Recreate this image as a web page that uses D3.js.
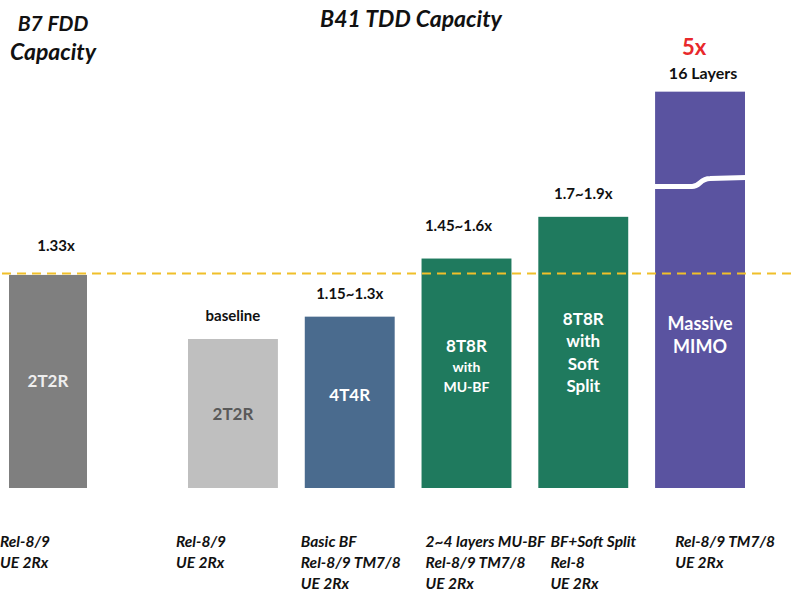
<!DOCTYPE html>
<html>
<head>
<meta charset="utf-8">
<script src="https://cdn.jsdelivr.net/npm/d3@7"></script>
<style>
  body { margin: 0; background: #fff; }
  svg { display: block; font-family: Lato, "Open Sans", sans-serif; }
</style>
</head>
<body>
<div id="chart"></div>
<script>
// capacity relative to the B41 2T2R baseline (bar heights as drawn on the slide)
const fddCategories = ['fdd2t2r'];
const tddCategories = ['2t2r', '4t4r', '8t8rMu', '8t8rSplit', 'mimo'];
const fddValues = [1.43];
const tddValues = [1.0, 1.15, 1.54, 1.82, 2.66];
const refLine = 1.44;
const breakValue = 2.05; // axis break drawn on the Massive MIMO bar

const fddTopLabels = ['1.33x'];
const tddTopLabels = ['baseline', '1.15~1.3x', '1.45~1.6x', '1.7~1.9x', '16 Layers'];
const fddInner = [['2T2R']];
const tddInner = [['2T2R'], ['4T4R'], ['8T8R', 'with', 'MU-BF'], ['8T8R', 'with', 'Soft', 'Split'], ['Massive', 'MIMO']];
const fddBottom = [['Rel-8/9', 'UE 2Rx']];
const tddBottom = [
  ['Rel-8/9', 'UE 2Rx'],
  ['Basic BF', 'Rel-8/9 TM7/8', 'UE 2Rx'],
  ['2~4 layers MU-BF', 'Rel-8/9 TM7/8', 'UE 2Rx'],
  ['BF+Soft Split', 'Rel-8', 'UE 2Rx'],
  ['Rel-8/9 TM7/8', 'UE 2Rx']
];

const W = 794, H = 595;
const fill = {
  fdd2t2r: '#7f7f7f', '2t2r': '#bfbfbf', '4t4r': '#4a6b8e',
  '8t8rMu': '#1f7a5e', '8t8rSplit': '#1f7a5e', mimo: '#5a53a0'
};
const innerColor = { fdd2t2r: '#eeeeee', '2t2r': '#595959' };

const svg = d3.select('#chart').append('svg').attr('width', W).attr('height', H);

const y = d3.scaleLinear().domain([0, 1]).range([488, 339]);
const xF = d3.scaleBand().domain(fddCategories).range([9, 87]).padding(0);
const xT = d3.scaleBand().domain(tddCategories).range([188, 745]).paddingInner(0.23).paddingOuter(0);
// columns of the release notes under the bars
const xLab = d3.scaleBand().domain(tddCategories).range([176, 800]).padding(0);

const bars = fddCategories.map((c, i) => ({
  cat: c, v: fddValues[i], x: xF(c), w: xF.bandwidth(), lx: 0,
  top: fddTopLabels[i], inner: fddInner[i], bottom: fddBottom[i]
})).concat(tddCategories.map((c, i) => ({
  cat: c, v: tddValues[i], x: xT(c), w: xT.bandwidth(), lx: xLab(c),
  top: tddTopLabels[i], inner: tddInner[i], bottom: tddBottom[i]
})));

// headers
const head = (x, yy, s, size) => svg.append('text').attr('x', x).attr('y', yy)
  .attr('text-anchor', 'middle').attr('font-size', size).attr('font-weight', 'bold')
  .attr('font-style', 'italic').attr('fill', '#111').text(s);
head(53, 31, 'B7 FDD', 21);
head(53, 60, 'Capacity', 23);
head(411, 27, 'B41 TDD Capacity', 23);

const g = svg.append('g');
g.selectAll('rect.bar').data(bars).join('rect')
  .attr('class', 'bar')
  .attr('x', d => d.x).attr('width', d => d.w)
  .attr('y', d => y(d.v)).attr('height', d => y(0) - y(d.v))
  .attr('fill', d => fill[d.cat]);

// axis break on the tall bar
const mimo = bars.find(d => d.cat === 'mimo');
const by = y(breakValue);
const bx0 = mimo.x, bx1 = mimo.x + mimo.w, bm = mimo.x + mimo.w * 0.5;
g.append('path')
  .attr('d', `M${bx0 - 1},${by + 4} L${bm - 8},${by + 4} C${bm},${by + 4} ${bm},${by - 4} ${bm + 10},${by - 4} L${bx1 + 1},${by - 5}`)
  .attr('fill', 'none').attr('stroke', '#fff').attr('stroke-width', 5);

// reference dashed line
svg.append('line').attr('x1', 2).attr('x2', W).attr('y1', y(refLine)).attr('y2', y(refLine))
  .attr('stroke', '#f0bf2a').attr('stroke-width', 2).attr('stroke-dasharray', '9,6');

// top labels
g.selectAll('text.top').data(bars).join('text')
  .attr('class', 'top')
  .attr('x', d => d.x + d.w / 2 + (d.cat === 'mimo' ? 3 : d.cat === 'fdd2t2r' ? 8 : d.cat === '8t8rMu' ? -8 : 0))
  .attr('y', d => y(d.v) - (d.cat === 'fdd2t2r' ? 24 : d.cat === '8t8rMu' ? 28 : d.cat === 'mimo' ? 13 : 18))
  .attr('text-anchor', 'middle').attr('font-size', d => d.cat === 'mimo' ? 16 : 15)
  .attr('font-weight', 'bold').attr('fill', '#111').text(d => d.top);

svg.append('text').attr('x', mimo.x + mimo.w / 2 - 6).attr('y', y(mimo.v) - 37)
  .attr('text-anchor', 'middle').attr('font-size', 22).attr('font-weight', 'bold')
  .attr('fill', '#e8282b').text('5x');

// inner labels
const lh = 22.5;
bars.forEach(d => {
  const top = d.cat === 'mimo' ? by : y(d.v);
  const mid = (top + y(0)) / 2 - (d.cat === '4t4r' || d.cat === '8t8rMu' ? 7 : 0);
  const n = d.inner.length;
  const t = g.append('text').attr('text-anchor', 'middle')
    .attr('font-weight', 'bold').attr('fill', innerColor[d.cat] || '#fff');
  d.inner.forEach((s, i) => {
    t.append('tspan').attr('x', d.x + d.w / 2)
      .attr('y', mid + (i - (n - 1) / 2) * (d.cat === '8t8rMu' ? 20 : lh) + 6)
      .attr('font-size', d.cat === '8t8rMu' && i > 0 ? 14 : d.cat === 'mimo' ? 18 : 17)
      .text(s);
  });
});

// bottom labels
bars.forEach(d => {
  const t = g.append('text').attr('font-size', 15.5).attr('font-weight', 'bold')
    .attr('font-style', 'italic').attr('fill', '#111');
  d.bottom.forEach((s, i) => {
    t.append('tspan').attr('x', d.lx).attr('y', 547 + i * 21).text(s);
  });
});
</script>
</body>
</html>
